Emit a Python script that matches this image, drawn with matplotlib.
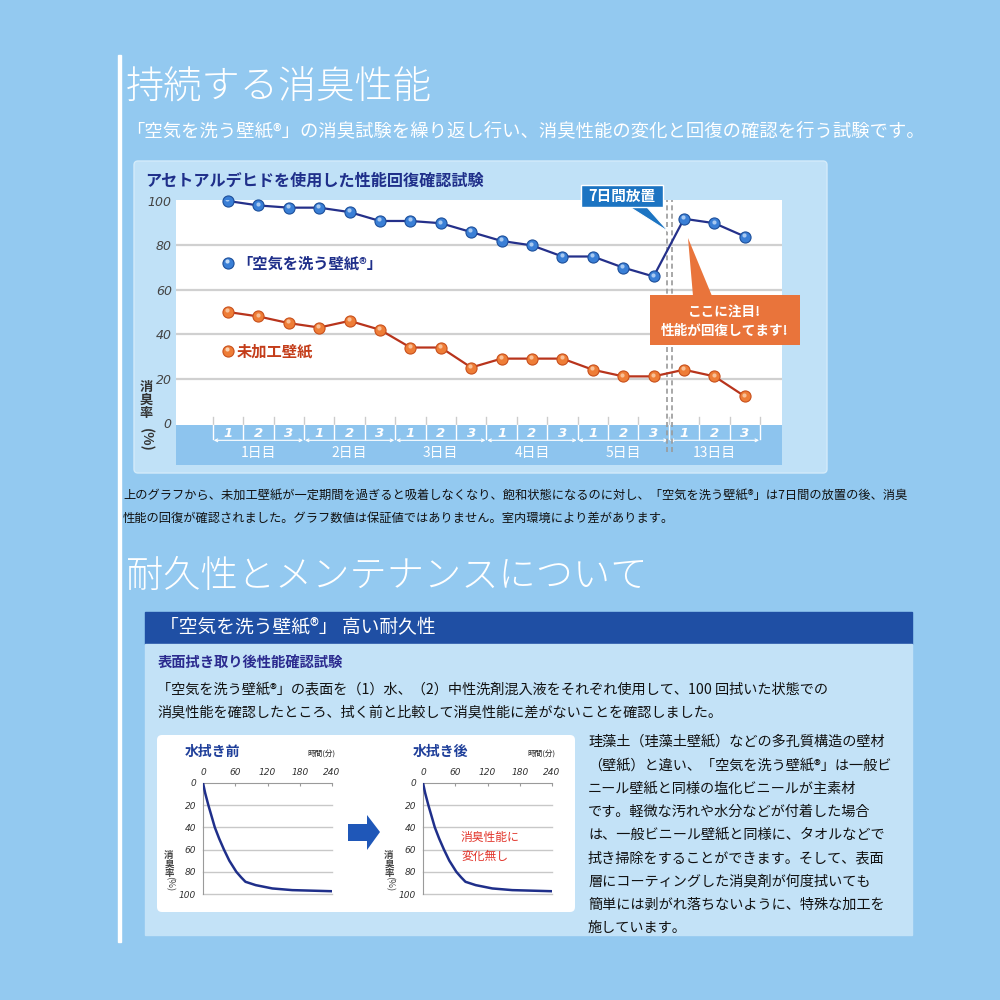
import matplotlib
matplotlib.use("Agg")
import matplotlib.pyplot as plt
from matplotlib.patches import Rectangle, Polygon, FancyBboxPatch
from matplotlib.transforms import offset_copy

plt.rcParams['font.family'] = ['Noto Sans CJK JP', 'DejaVu Sans']

# ---- data ----
days = ['1日目', '2日目', '3日目', '4日目', '5日目', '13日目']
runs = ['1', '2', '3']
treated = [100, 98, 97, 97, 95, 91, 91, 90, 86, 82, 80, 75, 75, 70, 66, 92, 90, 84]
untreated = [50, 48, 45, 43, 46, 42, 34, 34, 25, 29, 29, 29, 24, 21, 21, 24, 21, 12]
yticks = [0, 20, 40, 60, 80, 100]

minutes = [0, 4, 10, 16, 22, 30, 39, 49, 62, 71, 79, 98, 129, 166, 240]
rate_before = [0, 9, 20, 30, 40, 50, 60, 70, 80, 85, 89, 92, 95, 96.5, 97.5]
rate_after = [0, 9, 20, 30, 40, 50, 60, 70, 80, 85, 89, 92, 95, 96.5, 97.5]
time_ticks = [0, 60, 120, 180, 240]
rate_ticks = [0, 20, 40, 60, 80, 100]

right_lines = [
    '珪藻土（珪藻土壁紙）などの多孔質構造の壁材',
    '（壁紙）と違い、「空気を洗う壁紙®」は一般ビ',
    'ニール壁紙と同様の塩化ビニールが主素材',
    'です。軽微な汚れや水分などが付着した場合',
    'は、一般ビニール壁紙と同様に、タオルなどで',
    '拭き掃除をすることができます。そして、表面',
    '層にコーティングした消臭剤が何度拭いても',
    '簡単には剥がれ落ちないように、特殊な加工を',
    '施しています。',
]

BG = '#93c9f0'
PANEL = '#c0e1f7'
BAND = '#8dc4ee'
NAVY = '#24308a'
BLUE_PT = '#3a7fd6'
RED_LN = '#b8341c'
ORANGE_PT = '#ee7d37'

fig = plt.figure(figsize=(10, 10), dpi=100)
fig.patch.set_facecolor(BG)


def px_axes(x0, y0, x1, y1, z):
    return fig.add_axes([x0 / 1000, 1 - y1 / 1000, (x1 - x0) / 1000, (y1 - y0) / 1000], zorder=z)


def overlay(z):
    a = fig.add_axes([0, 0, 1, 1], zorder=z)
    a.set_xlim(0, 1000)
    a.set_ylim(1000, 0)
    a.axis('off')
    return a


bg = overlay(0)
fg = overlay(10)

# background panels
bg.add_patch(Rectangle((118, 55), 3, 887, color='white'))
bg.add_patch(FancyBboxPatch((134, 161), 693, 312, boxstyle='round,pad=0,rounding_size=4',
                            fc=PANEL, ec='#d4ebfa', lw=1))
bg.add_patch(Rectangle((145, 612), 767, 32, color='#1f4fa4'))
bg.add_patch(Rectangle((145, 644), 767, 291, color='#c3e2f7'))
bg.add_patch(FancyBboxPatch((157, 735), 418, 177, boxstyle='round,pad=0,rounding_size=5',
                            fc='white', ec='none'))

# headings and paragraphs
bg.text(126, 88, '持続する消臭性能', fontsize=27.5, color='white', va='center', fontweight='light')
bg.text(126, 131, '「空気を洗う壁紙®」の消臭試験を繰り返し行い、消臭性能の変化と回復の確認を行う試験です。',
        fontsize=13.2, color='white', va='center')
bg.text(145, 181, 'アセトアルデヒドを使用した性能回復確認試験', fontsize=11.6, color='#1f2f8a',
        fontweight='bold', va='center')
bg.text(123, 495, '上のグラフから、未加工壁紙が一定期間を過ぎると吸着しなくなり、飽和状態になるのに対し、「空気を洗う壁紙®」は7日間の放置の後、消臭',
        fontsize=8.8, color='#111111', va='center')
bg.text(123, 518, '性能の回復が確認されました。グラフ数値は保証値ではありません。室内環境により差があります。',
        fontsize=8.8, color='#111111', va='center')
bg.text(126, 577, '耐久性とメンテナンスについて', fontsize=26.8, color='white', va='center', fontweight='light')
bg.text(160, 628, '「空気を洗う壁紙®」 高い耐久性', fontsize=13.5, color='white', va='center')
bg.text(158, 663, '表面拭き取り後性能確認試験', fontsize=10.3, color='#2b2b8f', fontweight='bold', va='center')
bg.text(157, 689, '「空気を洗う壁紙®」の表面を（1）水、（2）中性洗剤混入液をそれぞれ使用して、100 回拭いた状態での',
        fontsize=10.2, color='#111111', va='center')
bg.text(157, 712, '消臭性能を確認したところ、拭く前と比較して消臭性能に差がないことを確認しました。',
        fontsize=10.2, color='#111111', va='center')
for i, line in enumerate(right_lines):
    bg.text(588, 742 + 23.2 * i, line, fontsize=10.2, color='#111111', va='center')

# y label of main chart
bg.text(146, 400, '消\n臭\n率', fontsize=9.5, fontweight='bold', color='#333333',
        ha='center', va='center', linespacing=0.95)
bg.text(146, 440, '(%)', fontsize=10, fontweight='bold', color='#333333', rotation=-90,
        ha='center', va='center')

# ---- main chart ----
ax = px_axes(176, 200, 782, 465, 2)
unit = 2.22
ax.set_ylim((423 - 465) / unit, (423 - 200) / unit)
ax.set_xlim(-52 / 30.4, 554 / 30.4)
ax.set_facecolor('white')
for s in ax.spines.values():
    s.set_visible(False)
ax.set_xticks([])
ax.set_yticks(yticks)
ax.set_yticklabels([str(v) for v in yticks], fontstyle='italic', family='DejaVu Sans',
                   color='#444444', fontsize=9)
ax.tick_params(axis='y', length=0, pad=3)
ax.axhspan((423 - 465) / unit, -0.9, color=BAND, zorder=1, lw=0)
for v in yticks[1:-1]:
    ax.axhline(v, color='#d0d0d0', lw=1.6, zorder=1)

n = len(treated)
xs = list(range(n))
for i in range(n + 1):
    b = i - 0.5
    ax.plot([b, b], [2.8, -0.9], color='#cccccc', lw=1, zorder=2)
    ax.plot([b, b], [-0.9, -7.2], color='white', lw=1, zorder=2)
for i in xs:
    ax.text(i, -4.6, runs[i % 3], ha='center', va='center', fontstyle='italic', fontweight='bold',
            family='DejaVu Sans', color='white', fontsize=9.5, zorder=3)
for g, d in enumerate(days):
    ax.annotate('', xy=(3 * g - 0.47, -7.8), xytext=(3 * g + 2.47, -7.8),
                arrowprops=dict(arrowstyle='<->', color='white', lw=0.8, shrinkA=0, shrinkB=0,
                                mutation_scale=5), zorder=3)
    ax.text(3 * g + 1, -13.3, d, ha='center', va='center', color='white', fontsize=10, zorder=3)

ax.vlines([14.44, 14.61], -13, (423 - 200) / unit, colors='#9a9a9a', linestyles=(0, (3, 2)),
          lw=1.2, zorder=3)

hl = offset_copy(ax.transData, fig=fig, x=-0.6, y=1.2, units='points')
ax.plot(xs, untreated, color=RED_LN, lw=1.6, zorder=4)
ax.plot(xs, untreated, 'o', ms=8, mfc=ORANGE_PT, mec='#c8501c', mew=0.8, zorder=5, clip_on=False)
ax.plot(xs, untreated, 'o', ms=3, mfc='#fbd2b0', mec='none', alpha=0.8, zorder=6, transform=hl)
ax.plot(xs, treated, color=NAVY, lw=1.6, zorder=4)
ax.plot(xs, treated, 'o', ms=8, mfc=BLUE_PT, mec='#1d4f9a', mew=0.8, zorder=5, clip_on=False)
ax.plot(xs, treated, 'o', ms=3, mfc='#c4dcf7', mec='none', alpha=0.8, zorder=6, transform=hl)

# legend inside plot
ax.plot([0], [72], 'o', ms=8, mfc=BLUE_PT, mec='#1d4f9a', mew=0.8, zorder=5)
ax.plot([0], [72], 'o', ms=3, mfc='#c4dcf7', mec='none', zorder=6, transform=hl)
ax.text(0.3, 72, '「空気を洗う壁紙®」', color='#1f2f8a', fontsize=11, fontweight='bold', va='center')
ax.plot([0], [32.4], 'o', ms=8, mfc=ORANGE_PT, mec='#c8501c', mew=0.8, zorder=5)
ax.plot([0], [32.4], 'o', ms=3, mfc='#fbd2b0', mec='none', zorder=6, transform=hl)
ax.text(0.3, 32.4, '未加工壁紙', color='#c43d1a', fontsize=11, fontweight='bold', va='center')

# callouts
fg.add_patch(Polygon([(628, 206), (646, 206), (669, 232)], closed=True, fc='#1c74c2', ec='white', lw=0.8))
fg.add_patch(Rectangle((581, 185), 82, 22, fc='#1c74c2', ec='white', lw=1))
fg.text(622, 196, '7日間放置', color='white', fontsize=10.5, fontweight='bold', ha='center', va='center')
fg.add_patch(Polygon([(688, 238), (693, 296), (712, 296)], closed=True, fc='#e9743b', ec='none'))
fg.add_patch(Rectangle((650, 295), 150, 50, fc='#e9743b', ec='none'))
fg.text(725, 312, 'ここに注目!', color='white', fontsize=9.8, fontweight='bold', ha='center', va='center')
fg.text(725, 331, '性能が回復してます!', color='white', fontsize=9.8, fontweight='bold', ha='center', va='center')


# ---- small charts ----
def small_chart(x0, x1, values, title, tx, ylab_x, timelab_x):
    a = px_axes(x0, 783, x1, 894, 3)
    a.plot(minutes, values, color='#1f2f8a', lw=1.8, zorder=3, solid_joinstyle='round')
    a.set_xlim(0, 240)
    a.set_ylim(100, 0)
    a.xaxis.tick_top()
    a.set_xticks(time_ticks)
    a.set_xticklabels([str(t) for t in time_ticks], fontstyle='italic', family='DejaVu Sans',
                      fontsize=6.5, color='#333333')
    a.set_yticks(rate_ticks)
    a.set_yticklabels([str(t) for t in rate_ticks], fontstyle='italic', family='DejaVu Sans',
                      fontsize=6.5, color='#333333')
    a.tick_params(axis='x', length=2, direction='in', color='#999999', pad=4)
    a.tick_params(axis='y', length=0, pad=5)
    for s in ['right', 'bottom']:
        a.spines[s].set_visible(False)
    for s in ['left', 'top']:
        a.spines[s].set_color('#9a9a9a')
    for v in rate_ticks[1:]:
        a.axhline(v, color='#c8c8c8', lw=1, zorder=1, clip_on=False)
    a.set_facecolor('white')
    bg.text(tx, 752, title, fontsize=10, fontweight='bold', color='#1f3f9a', va='center')
    bg.text(timelab_x, 754, '時間(分)', fontsize=5.5, color='#222222', va='center')
    bg.text(ylab_x, 864, '消\n臭\n率', fontsize=6.8, fontweight='bold', color='#444444',
            ha='center', va='center', linespacing=0.9)
    bg.text(ylab_x, 884, '(%)', fontsize=6.8, color='#444444', rotation=-90, ha='center', va='center')
    return a


small_chart(203, 332, rate_before, '水拭き前', 185, 169, 307)
small_chart(423, 552, rate_after, '水拭き後', 413, 389, 527)
bg.text(250, 861, 'アセトアルデヒド', fontsize=7, color='#111111', va='center')
fg.text(461, 838, '消臭性能に', fontsize=8.5, color='#e2352b', va='center')
fg.text(461, 856, '変化無し', fontsize=8.5, color='#e2352b', va='center')
fg.add_patch(Polygon([(348, 824), (367, 824), (367, 815), (380, 832), (367, 850), (367, 841), (348, 841)],
                     closed=True, fc='#1f57b8', ec='none'))

fig.savefig('out.png', dpi=100, facecolor=BG)
